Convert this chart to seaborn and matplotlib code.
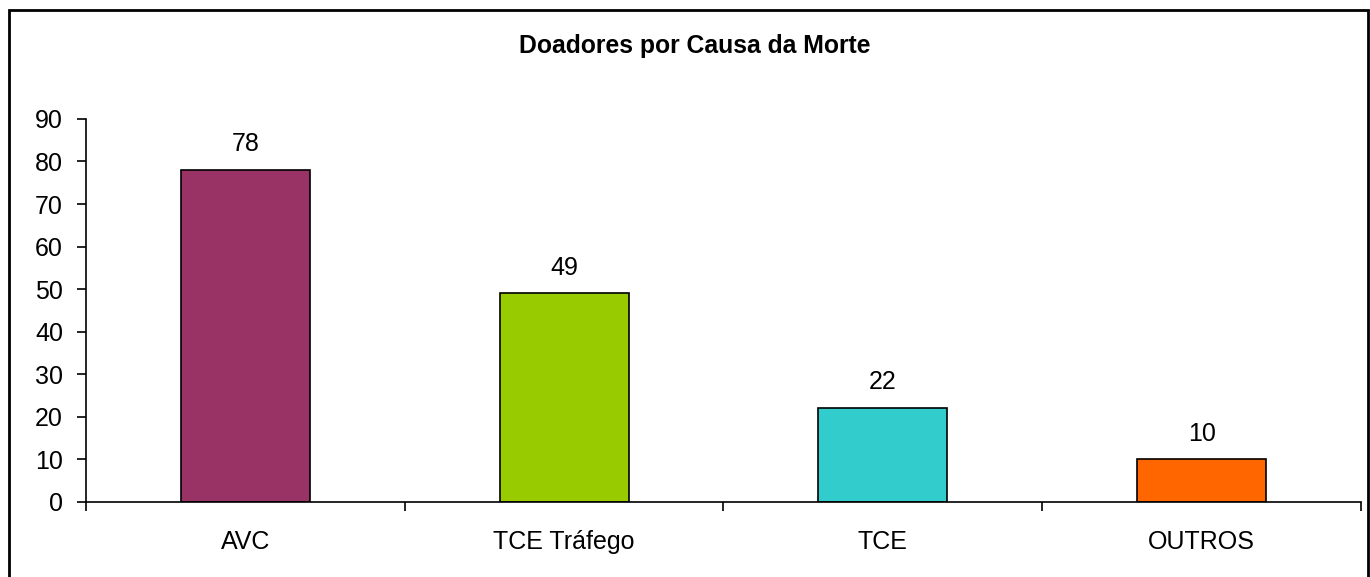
import numpy as np
import pandas as pd
import seaborn as sns
import matplotlib.pyplot as plt
from matplotlib.patches import Rectangle
from matplotlib.ticker import FixedLocator

sns.set_style('white')
plt.rcParams['font.family'] = ['Liberation Sans', 'DejaVu Sans']
plt.rcParams['text.color'] = 'black'
plt.rcParams['xtick.color'] = 'black'
plt.rcParams['ytick.color'] = 'black'

categorias = ['AVC', 'TCE Tráfego', 'TCE', 'OUTROS']
doadores = [78, 49, 22, 10]
cores = ['#993366', '#99CC00', '#33CCCC', '#FF6600']
titulo = 'Doadores por Causa da Morte'

df = pd.DataFrame({'causa': categorias, 'doadores': doadores})

fig = plt.figure(figsize=(13.7, 5.77), dpi=100)
ax = fig.add_axes([0.0628, 0.130, 0.9306, 0.664])

sns.barplot(data=df, x='causa', y='doadores', hue='causa', palette=cores,
            legend=False, width=0.405, edgecolor='black', linewidth=1.2,
            saturation=1, ax=ax)

for c in ax.containers:
    ax.bar_label(c, padding=10, fontsize=18, color='black')

ax.set_xlim(-0.5, len(categorias) - 0.5)
ax.set_ylim(0, 90)
ax.set_yticks(range(0, 91, 10))
ax.set_xlabel('')
ax.set_ylabel('')

ax.xaxis.set_minor_locator(FixedLocator(np.arange(-0.5, len(categorias), 1)))
ax.tick_params(axis='x', which='major', bottom=True, length=0, pad=20, labelsize=18)
ax.tick_params(axis='x', which='minor', bottom=True, length=6.5, width=1.2, direction='out')
ax.tick_params(axis='y', left=True, length=6.5, width=1.2, direction='out', pad=10, labelsize=18)

for s in ['top', 'right']:
    ax.spines[s].set_visible(False)
for s in ['left', 'bottom']:
    ax.spines[s].set_color('black')
    ax.spines[s].set_linewidth(1.2)

fig.text(695 / 1370, 1 - 46 / 577, titulo, ha='center', va='center',
         fontsize=17.8, fontweight='bold')

# moldura externa
fig.patches.append(Rectangle((9 / 1370, -0.02), 1359 / 1370, 0.02 + 1 - 10 / 577,
                             transform=fig.transFigure, fill=False,
                             edgecolor='black', linewidth=2))

fig.savefig('out.png', dpi=100)
